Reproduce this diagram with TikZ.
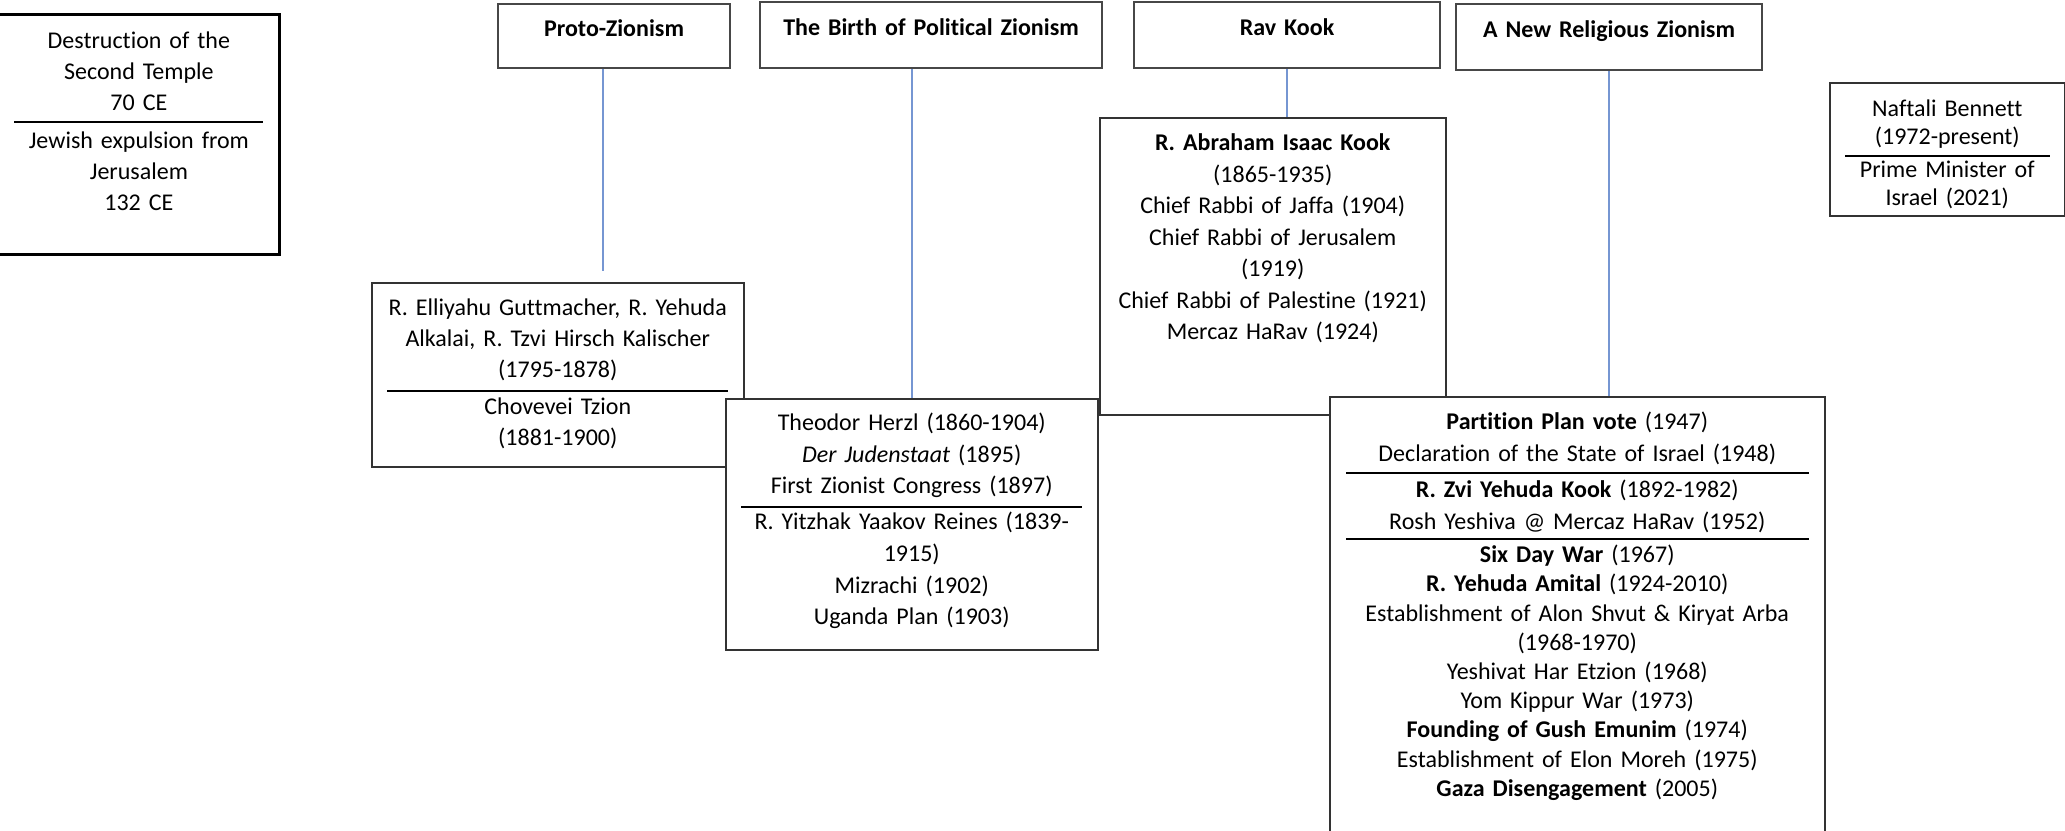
\documentclass[tikz,border=0pt]{standalone}
\usepackage{fontspec}
\setmainfont{Carlito}[Ligatures=NoCommon]
\usetikzlibrary{positioning}
\definecolor{linkblue}{RGB}{118,150,210}

\begin{document}
\begin{tikzpicture}[
    x=0.5pt, y=-0.5pt,
    textbox/.style={rectangle, draw=black!80, line width=0.75pt, fill=white,
                inner sep=0pt, align=center, anchor=north west,
                font=\fontsize{12pt}{15.75pt}\selectfont},
    headbox/.style={textbox, draw=black!72, line width=1pt,
                font=\bfseries\fontsize{12pt}{15pt}\selectfont},
    divider/.style={line width=1pt, black},
    link/.style={draw=linkblue, line width=0.8pt}
]
\useasboundingbox (0,0) rectangle (2065,830);

% ================= HEADERS =================
\node[headbox, text width=116pt, text height=16pt, text depth=16pt] (protoHead) at (497,3) {Proto-Zionism};
\node[headbox, text width=171pt, text height=16.5pt, text depth=16.5pt] (birthHead) at (759,1) {The Birth of Political Zionism};
\node[headbox, text width=153pt, text height=16.5pt, text depth=16.5pt] (kookHead) at (1133,1) {Rav Kook};
\node[headbox, text width=153pt, text height=16.5pt, text depth=16.5pt] (zionHead) at (1455,3) {A New Religious Zionism};

% ================= SIDE BOXES =================
\node[textbox, draw=black, line width=1.4pt, text width=140.5pt, text height=17pt, text depth=103pt,
      font=\fontsize{12pt}{15.5pt}\selectfont] (temple) at (-3,13)
  {Destruction of the\\Second Temple\\70 CE\\[3.5pt]Jewish expulsion from\\Jerusalem\\132 CE};
\draw[divider] (14,122) -- (263,122);

\node[textbox, text width=117.5pt, text height=17pt, text depth=49.5pt,
      font=\fontsize{12pt}{14pt}\selectfont] (pmBox) at (1829,82)
  {Naftali Bennett\\(1972-present)\\[2.5pt]Prime Minister of\\Israel (2021)};
\draw[divider] (1845,156) -- (2050,156);

% ================= PERIOD BOXES =================
\node[textbox, text width=186pt, text height=16.5pt, text depth=75.5pt,
      font=\fontsize{12pt}{15.5pt}\selectfont] (protoBox) at (371,282)
  {R. Elliyahu Guttmacher, R. Yehuda\\Alkalai, R. Tzvi Hirsch Kalischer\\(1795-1878)\\[3pt]Chovevei Tzion\\(1881-1900)};
\draw[divider] (387,391) -- (728,391);

\node[textbox, text width=186pt, text height=16pt, text depth=109.5pt,
      font=\fontsize{12pt}{15.8pt}\selectfont] (herzlBox) at (725,398)
  {Theodor Herzl (1860-1904)\\\textit{Der Judenstaat} (1895)\\First Zionist Congress (1897)\\[2.2pt]R. Yitzhak Yaakov Reines (1839-\\1915)\\Mizrachi (1902)\\Uganda Plan (1903)};
\draw[divider] (741,507) -- (1082,507);

\node[textbox, text width=173pt, text height=16.5pt, text depth=132pt] (kookBox) at (1099,117)
  {\textbf{R. Abraham Isaac Kook}\\(1865-1935)\\Chief Rabbi of Jaffa (1904)\\Chief Rabbi of Jerusalem\\(1919)\\Chief Rabbi of Palestine (1921)\\Mercaz HaRav (1924)};

\node[textbox, text width=247.5pt, text height=16.5pt, text depth=205.5pt,
      font=\fontsize{12pt}{14.6pt}\selectfont] (zionBox) at (1329,396)
  {\textbf{Partition Plan vote} (1947)\\[1.4pt]
   Declaration of the State of Israel (1948)\\[3.4pt]
   \textbf{R. Zvi Yehuda Kook} (1892-1982)\\[1.4pt]
   Rosh Yeshiva @ Mercaz HaRav (1952)\\[1.9pt]
   \textbf{Six Day War} (1967)\\
   \textbf{R. Yehuda Amital} (1924-2010)\\
   Establishment of Alon Shvut \& Kiryat Arba\\
   (1968-1970)\\
   Yeshivat Har Etzion (1968)\\
   Yom Kippur War (1973)\\
   \textbf{Founding of Gush Emunim} (1974)\\
   Establishment of Elon Moreh (1975)\\
   \textbf{Gaza Disengagement} (2005)};
\draw[divider] (1346,473) -- (1809,473);
\draw[divider] (1346,539) -- (1809,539);

% ================= CONNECTORS =================
\coordinate (protoTip) at (603,271);
\draw[link] (protoHead.south -| protoTip) -- (protoTip);
\draw[link] (birthHead.south -| herzlBox.north) -- (herzlBox.north);
\draw[link] (kookHead.south) -- (kookHead.south |- kookBox.north);
\draw[link] (zionHead.south) -- (zionHead.south |- zionBox.north);

\end{tikzpicture}
\end{document}
